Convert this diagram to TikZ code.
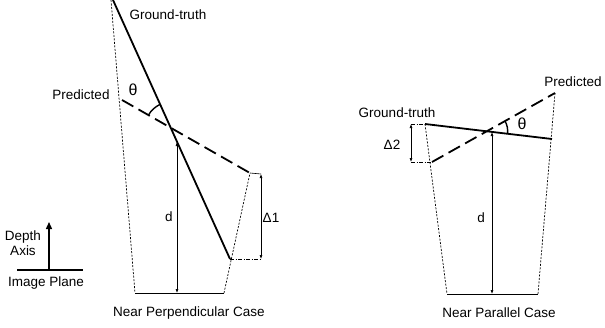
\documentclass[tikz,border=0pt]{standalone}
\usepackage{fontspec}
\setmainfont{Liberation Sans}
\usetikzlibrary{arrows.meta}
\begin{document}
\begin{tikzpicture}[x=1pt,y=-1pt,
  lbl/.style={font=\fontsize{13.5}{15}\selectfont, inner sep=0pt},
  glbl/.style={font=\fontsize{16}{18}\selectfont, inner sep=0pt},
  gt/.style={line width=1.8pt},
  pred/.style={line width=1.8pt, dash pattern=on 13pt off 6pt},
  ray/.style={line width=0.7pt, dash pattern=on 2pt off 1.5pt},
  base/.style={line width=0.9pt},
  meas/.style={line width=0.6pt, {Latex[length=4pt,width=3pt]}-{Latex[length=4pt,width=3pt]}},
  guide/.style={line width=0.6pt, dash pattern=on 4pt off 1.5pt on 1pt off 1.5pt},
  anglearc/.style={line width=1.4pt}]
\useasboundingbox (0,0) rectangle (605,327);
% ---------- left: near perpendicular case ----------
\coordinate (LgtA) at (113,0);
\coordinate (LgtB) at (230,259);
\coordinate (LprA) at (122,100);
\coordinate (LprB) at (250,173);
\coordinate (LbL) at (135,293);
\coordinate (LbR) at (224,293);
\coordinate (LrayT) at (111,0);
\coordinate (Lx) at (171,128);
\coordinate (LdT) at (177,142);
\coordinate (LdB) at (177,293);
\coordinate (LDT) at (261,174);
\coordinate (LDB) at (261,259);
\draw[ray] (LrayT) -- (LbL);
\draw[ray] (LbR) -- (LprB);
\draw[base] (LbL) -- (LbR);
\draw[gt] (LgtA) -- (LgtB);
\draw[pred] (LprA) -- (LprB);
\draw[anglearc] (Lx) ++(-150.3:26) arc[start angle=-150.3, end angle=-114.4, radius=26];
\draw[meas] (LdT) -- (LdB);
\draw[line width=0.6pt] (LprB) -- (LDT);
\draw[guide] (LgtB) -- (LDB);
\draw[meas] (LDT) -- (LDB);
\node[lbl] (lgt) at (168,15) {Ground-truth};
\node[lbl] (lpr) at (81,95) {Predicted};
\node[glbl] (lth) at (133,90) {θ};
\node[lbl] (ld) at (169,217) {d};
\node[lbl] (lD) at (271,218) {Δ1};
\node[lbl] (lcase) at (189,313) {Near Perpendicular Case};
% ---------- legend ----------
\coordinate (ipL) at (17,270);
\coordinate (ipR) at (83,270);
\coordinate (axB) at (49,270);
\coordinate (axT) at (49,222);
\draw[line width=1.2pt] (ipL) -- (ipR);
\draw[line width=1.4pt, -{Triangle[length=7pt,width=6pt]}] (axB) -- (axT);
\node[lbl] (depth) at (23,237) {Depth};
\node[lbl] (axis) at (23,251) {Axis};
\node[lbl] (iplane) at (46,283) {Image Plane};
% ---------- right: near parallel case ----------
\coordinate (RgtA) at (425,124);
\coordinate (RgtB) at (552,139);
\coordinate (RprA) at (432,162);
\coordinate (RprB) at (555,93);
\coordinate (RbL) at (447,294);
\coordinate (RbR) at (538,294);
\coordinate (Rx) at (486.7,131.3);
\coordinate (RdT) at (492,132);
\coordinate (RdB) at (492,294);
\coordinate (RDT) at (411,124);
\coordinate (RDB) at (411,162);
\draw[ray] (RgtA) -- (RbL);
\draw[ray] (RprB) -- (RbR);
\draw[base] (RbL) -- (RbR);
\draw[gt] (RgtA) -- (RgtB);
\draw[pred] (RprA) -- (RprB);
\draw[anglearc] (Rx) ++(6.7:21) arc[start angle=6.7, end angle=-29.3, radius=21];
\draw[meas] (RdT) -- (RdB);
\draw[guide] (RDT) -- (RgtA);
\draw[guide] (RDB) -- (RprA);
\draw[meas] (RDT) -- (RDB);
\node[lbl] (rgt) at (397,113) {Ground-truth};
\node[lbl] (rpr) at (573,82) {Predicted};
\node[glbl] (rth) at (522,124) {θ};
\node[lbl] (rd) at (481,218) {d};
\node[lbl] (rD) at (392,145) {Δ2};
\node[lbl] (rcase) at (499,313) {Near Parallel Case};
\end{tikzpicture}
\end{document}
